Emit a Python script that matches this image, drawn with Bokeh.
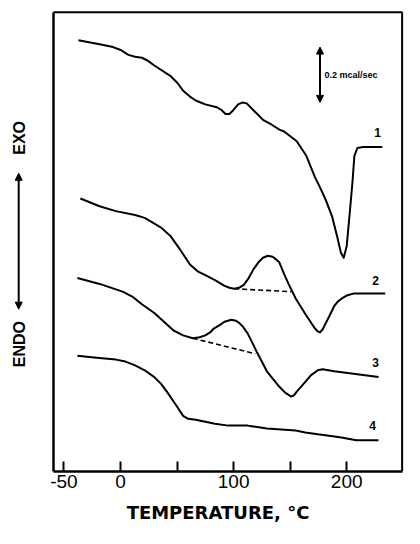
from bokeh.plotting import figure
from bokeh.models import Range1d, Label, Arrow, NormalHead, FixedTicker, ColumnDataSource, LinearAxis
from bokeh.core.properties import value
from bokeh.embed import file_html
from bokeh.resources import INLINE

# ---- data: temperature (degC) vs. heat-flow signal (arbitrary units, EXO up) ----
t1 = [-37.2, -18.5, -6.6, 0.2, 7.0, 12.9, 18.9, 24.0, 29.9, 44.4, 50.4, 55.4, 61.4, 66.5, 75.0,
      85.2, 89.5, 92.9, 96.3, 99.7, 104.0, 108.1, 111.6, 117.5, 121.8, 126.0, 133.7, 140.5,
      144.7, 155.8, 164.3, 171.9, 176.2, 181.3, 187.2, 191.5, 194.9, 197.4, 200.0, 202.6,
      205.1, 206.8, 209.4, 214.5, 221.3, 231.5]
y1 = [444, 440, 437, 434, 429, 427, 426, 423, 418, 407, 400, 392, 386, 382, 378,
      375, 372, 368, 368, 372, 378, 380, 379, 372, 367, 362, 357, 352,
      350, 340, 325, 303, 293, 280, 262, 242, 225, 220, 232, 265,
      298, 325, 333, 334, 334, 334]

t2 = [-35.5, -18.5, -4.1, 12.9, 21.4, 27.4, 35.9, 44.4, 52.9, 61.4, 68.2, 75.0, 83.5, 92.0,
      96.3, 100.5, 104.8, 109.0, 113.3, 117.5, 121.8, 126.0, 130.3, 134.5, 137.9, 140.5,
      144.7, 149.0, 154.9, 163.4, 171.9, 174.5, 176.2, 178.7, 180.4, 184.7, 188.9, 192.3,
      195.7, 200.0, 205.9, 234.0]
y2 = [281, 273, 268, 264, 261, 257, 251, 242, 228, 213, 206, 202, 197, 191,
      189, 188, 189, 192, 199, 208, 215, 220, 222, 221, 218, 215,
      203, 192, 178, 162, 147, 144, 143, 146, 150, 160, 170, 175,
      178, 181, 183, 183]
t2_base = [100.5, 150.9]
y2_base = [188, 185]

t3 = [-38.1, -18.5, 1.9, 10.4, 18.9, 29.9, 38.4, 46.9, 55.4, 63.9, 69.9, 75.0, 79.2, 82.5,
      86.9, 92.0, 97.9, 102.2, 104.8, 108.2, 112.4, 116.7, 120.9, 129.4, 140.5, 145.6,
      150.7, 153.2, 155.8, 163.4, 168.5, 174.5, 178.7, 189.0, 228.1]
y3 = [199, 193, 185, 180, 172, 163, 154, 145, 140, 137, 138, 140, 143, 147,
      150, 154, 156, 155, 153, 149, 142, 132, 122, 103, 87, 81,
      77, 78, 82, 92, 99, 104, 105, 103, 97]
t3_base = [63.9, 119.2]
y3_base = [137, 121]

t4 = [-38.1, -21.1, -4.1, 4.4, 12.9, 21.4, 29.9, 35.9, 41.0, 48.6, 55.4, 59.7, 66.5, 83.5,
      95.4, 112.4, 129.4, 154.9, 163.4, 174.5, 194.0, 208.5, 228.1]
y4 = [119, 117, 115, 113, 109, 104, 97, 90, 82, 69, 57, 54, 53, 49,
      47, 47, 44, 42, 40, 38, 35, 32, 32]

curve_ids = ["1", "2", "3", "4"]
id_t = [227.4, 225.5, 225.5, 222.9]
id_y = [349, 197, 112, 47]

x_ticks = [-50, 0, 50, 100, 150, 200]
x_tick_labels = {-50: "-50", 0: "0", 50: "", 100: "100", 150: "", 200: "200"}

scale_t = 176.4
scale_y0, scale_y1 = 380, 437
scale_text = "0.2 mcal/sec"

# ---- layout constants (chart box in data coordinates) ----
box_left, box_right = -59.35, 249.0
box_bottom, box_top = 0, 473

p = figure(width=404, height=528, output_backend="svg", toolbar_location=None,
           x_range=Range1d(-106.1, 251.1), y_range=Range1d(-59, 485),
           x_axis_location=None, y_axis_location=None,
           min_border=0, min_border_left=0, min_border_right=0,
           min_border_top=0, min_border_bottom=0)
p.grid.visible = False
p.outline_line_color = None
p.background_fill_color = "white"
p.border_fill_color = "white"

ax = LinearAxis(fixed_location=box_bottom, bounds=(box_left, box_right))
ax.ticker = FixedTicker(ticks=x_ticks)
ax.major_label_overrides = x_tick_labels
ax.major_tick_in = 10
ax.major_tick_out = 0
ax.major_tick_line_width = 2
ax.minor_tick_line_color = None
ax.axis_line_width = 2.5
ax.major_label_text_font = "Liberation Sans"
ax.major_label_text_font_size = "19px"
ax.major_label_text_color = "black"
ax.major_label_standoff = 4
p.add_layout(ax, "below")

ay = LinearAxis(fixed_location=box_left, bounds=(box_bottom, box_top))
ay.ticker = FixedTicker(ticks=[])
ay.major_tick_line_color = None
ay.minor_tick_line_color = None
ay.axis_line_width = 2.5
p.add_layout(ay, "left")

# top and right edges of the chart box
p.line([box_left, box_right, box_right], [box_top, box_top, box_bottom],
       line_color="black", line_width=2)

for t, y in [(t1, y1), (t2, y2), (t3, y3), (t4, y4)]:
    p.line(t, y, line_color="black", line_width=2, line_join="round")
for t, y in [(t2_base, y2_base), (t3_base, y3_base)]:
    p.line(t, y, line_color="black", line_width=1.6, line_dash="5 3")

src = ColumnDataSource(dict(x=id_t, y=id_y, text=curve_ids))
p.text(x="x", y="y", text="text", source=src, text_font=value("Liberation Sans"),
       text_font_style="bold", text_font_size="12px", text_align="center",
       text_baseline="middle", text_color="black")

# scale bar
p.add_layout(Arrow(x_start=scale_t, y_start=scale_y0, x_end=scale_t, y_end=scale_y1,
                   line_width=2, line_color="black",
                   start=NormalHead(size=7, fill_color="black", line_color="black"),
                   end=NormalHead(size=7, fill_color="black", line_color="black")))
p.add_layout(Label(x=scale_t + 4, y=(scale_y0 + scale_y1) / 2, text=scale_text,
                   text_font="Liberation Sans", text_font_style="bold", text_font_size="9px",
                   text_baseline="middle", text_align="left", text_color="black"))

# left EXO / ENDO label with double arrow
lab_t = -89.5
p.add_layout(Label(x=lab_t, y=343.5, text="EXO", angle=1.5708, text_font="Liberation Sans",
                   text_font_style="bold", text_font_size="16px", text_align="center",
                   text_baseline="middle", text_color="black"))
p.add_layout(Label(x=lab_t, y=131, text="ENDO", angle=1.5708, text_font="Liberation Sans",
                   text_font_style="bold", text_font_size="16px", text_align="center",
                   text_baseline="middle", text_color="black"))
p.add_layout(Arrow(x_start=lab_t - 0.5, y_start=167, x_end=lab_t - 0.5, y_end=307,
                   line_width=2, line_color="black",
                   start=NormalHead(size=7, fill_color="black", line_color="black"),
                   end=NormalHead(size=7, fill_color="black", line_color="black")))

# x-axis title
p.add_layout(Label(x=86.2, y=-42, text="TEMPERATURE, °C", text_font="DejaVu Sans",
                   text_font_style="bold", text_font_size="18px", text_align="center",
                   text_baseline="middle", text_color="black"))

open("out.html", "w").write(file_html(p, INLINE))
